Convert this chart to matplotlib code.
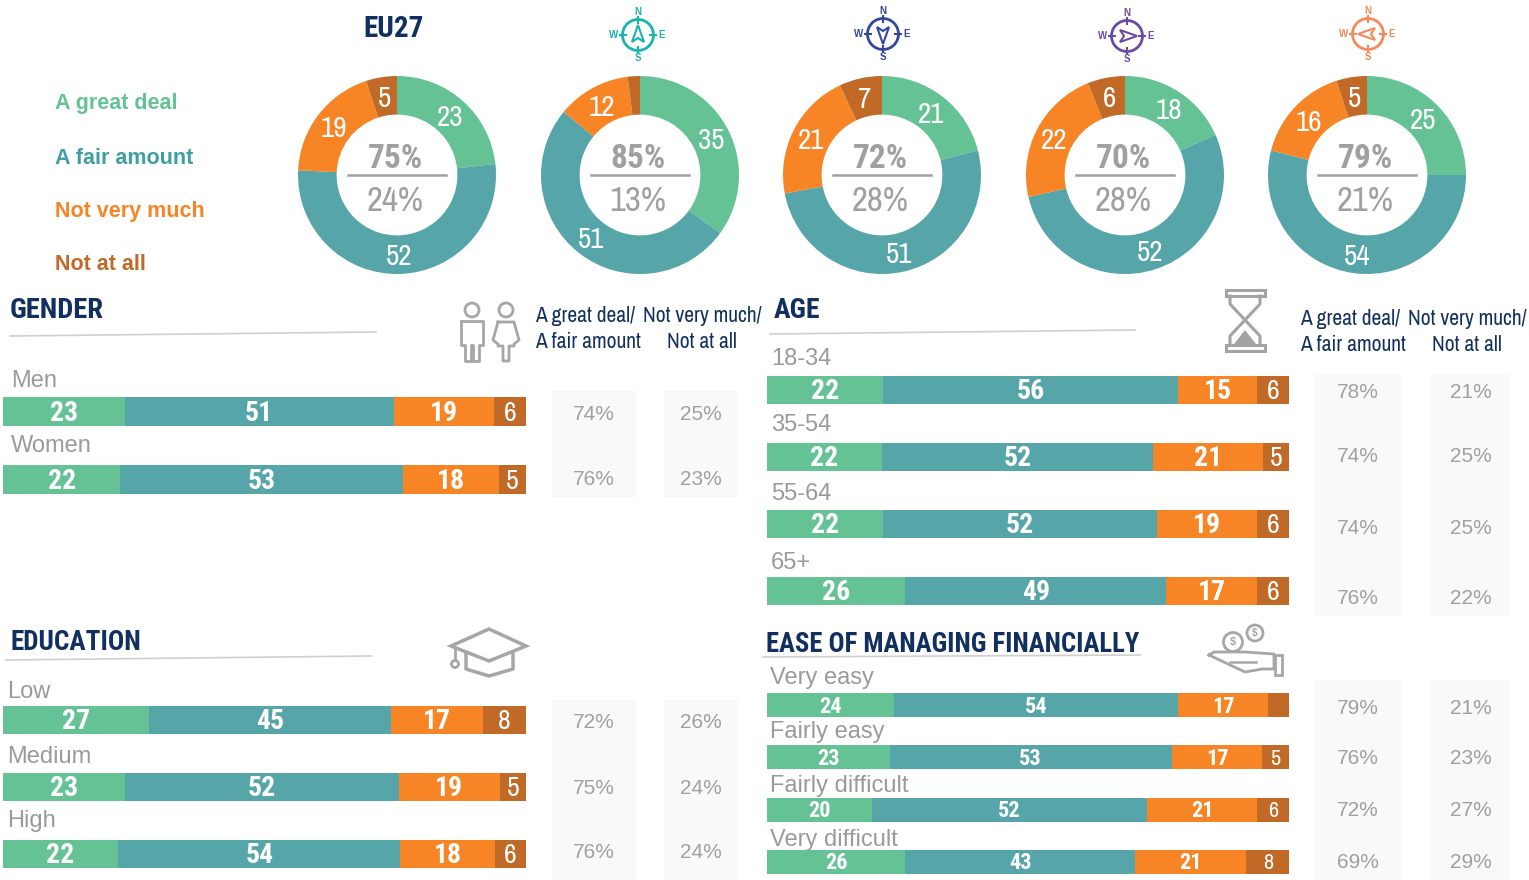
import numpy as np
import matplotlib
matplotlib.use("Agg")
import matplotlib.pyplot as plt
from matplotlib.patches import Circle, Rectangle, Polygon
import logging

logging.getLogger("matplotlib.font_manager").setLevel(logging.ERROR)

W, H = 1529, 880
NARROW = ["Archivo Narrow", "Roboto Condensed", "Liberation Sans"]
NARROW_BOLD = ["Roboto Condensed", "Archivo Narrow", "Liberation Sans"]
ARIAL = ["Liberation Sans", "DejaVu Sans"]
plt.rcParams["font.family"] = ARIAL

GREEN = "#65c295"
TEAL = "#55a5a9"
ORANGE = "#f78425"
BROWN = "#c16a27"
NAVY = "#12305f"
GREY = "#a0a0a0"
ICON = "#a6a6a6"
BOX = "#f9f9f9"
COLORS = [GREEN, TEAL, ORANGE, BROWN]

legend_names = ["A great deal", "A fair amount", "Not very much", "Not at all"]
legend_colors = [GREEN, "#3f9ea3", ORANGE, BROWN]

donut_values = [
    [23, 52, 19, 5],
    [35, 51, 12, 2],
    [21, 51, 21, 7],
    [18, 52, 22, 6],
    [25, 54, 16, 5],
]
donut_top = ["75%", "85%", "72%", "70%", "79%"]
donut_bottom = ["24%", "13%", "28%", "28%", "21%"]
compass_colors = ["#1bb3ad", "#33479c", "#6b4aa5", "#f58a5c"]

gender_labels = ["Men", "Women"]
gender_values = [[23, 51, 19, 6], [22, 53, 18, 5]]
gender_pos = ["74%", "76%"]
gender_neg = ["25%", "23%"]

age_labels = ["18-34", "35-54", "55-64", "65+"]
age_values = [[22, 56, 15, 6], [22, 52, 21, 5], [22, 52, 19, 6], [26, 49, 17, 6]]
age_pos = ["78%", "74%", "74%", "76%"]
age_neg = ["21%", "25%", "25%", "22%"]

edu_labels = ["Low", "Medium", "High"]
edu_values = [[27, 45, 17, 8], [23, 52, 19, 5], [22, 54, 18, 6]]
edu_pos = ["72%", "75%", "76%"]
edu_neg = ["26%", "24%", "24%"]

ease_labels = ["Very easy", "Fairly easy", "Fairly difficult", "Very difficult"]
ease_values = [[24, 54, 17, 4], [23, 53, 17, 5], [20, 52, 21, 6], [26, 43, 21, 8]]
ease_pos = ["79%", "76%", "72%", "69%"]
ease_neg = ["21%", "23%", "27%", "29%"]


def px_axes(fig, x0, y0, x1, y1, **kw):
    return fig.add_axes([x0 / W, 1 - y1 / H, (x1 - x0) / W, (y1 - y0) / H], **kw)


fig = plt.figure(figsize=(W / 100, H / 100), dpi=100)
bg = px_axes(fig, 0, 0, W, H)
bg.set_xlim(0, W)
bg.set_ylim(H, 0)
bg.axis("off")


def donut(cx, cy, vals, top, bottom, r=99):
    ax = px_axes(fig, cx - r, cy - r, cx + r, cy + r)
    wedges, _ = ax.pie(vals, colors=COLORS, startangle=90, counterclock=False, radius=1,
                       wedgeprops=dict(width=0.39, linewidth=0))
    ax.set_xlim(-1, 1)
    ax.set_ylim(-1, 1)
    for w, v in zip(wedges, vals):
        if v < 5:
            continue
        ang = np.deg2rad((w.theta1 + w.theta2) / 2)
        ax.text(0.805 * np.cos(ang), 0.805 * np.sin(ang) - 0.02, str(v), color="white", ha="center",
                va="center", fontsize=21, family=NARROW)
    ax.text(-0.02, 0.165, top, color=GREY, ha="center", va="center", fontsize=24, family=NARROW_BOLD, fontweight="bold")
    ax.plot([-0.49, 0.49], [0.0, 0.0], color=GREY, lw=1.8)
    ax.text(-0.02, -0.26, bottom, color=GREY, ha="center", va="center", fontsize=25, family=NARROW)


def compass(cx, cy, color, direction):
    bg.add_patch(Circle((cx, cy), 15.5, fill=False, ec=color, lw=2))
    for dx, dy in [(0, -1), (0, 1), (-1, 0), (1, 0)]:
        bg.plot([cx + dx * 12, cx + dx * 18], [cy + dy * 12, cy + dy * 18], color=color, lw=1.5)
    for s, x, y in [("N", cx, cy - 23), ("S", cx, cy + 23), ("W", cx - 24, cy), ("E", cx + 24, cy)]:
        bg.text(x, y, s, color=color, fontsize=7, fontweight="bold", ha="center", va="center")
    pts = np.array([[0, -10], [6, 7], [0, 3], [-6, 7]], float)
    rot = np.deg2rad(direction)
    R = np.array([[np.cos(rot), -np.sin(rot)], [np.sin(rot), np.cos(rot)]])
    pts = pts @ R.T + [cx, cy]
    bg.add_patch(Polygon(pts, closed=True, fill=False, ec=color, lw=1.5))


def stacked(x0, x1, centers, bar_h, rows, labels, label_x, label_dy, pos, neg, bx, fs=20, label_fs=17):
    step = centers[1] - centers[0]
    ax = px_axes(fig, x0, centers[0] - step / 2, x1, centers[-1] + step / 2)
    ax.patch.set_alpha(0)
    y = np.arange(len(rows))
    arr = np.array(rows, float)
    arr = arr / arr.sum(axis=1, keepdims=True) * 100
    left = np.zeros(len(rows))
    for j in range(4):
        ax.barh(y, arr[:, j], left=left, height=bar_h / step, color=COLORS[j], linewidth=0)
        for i in range(len(rows)):
            if rows[i][j] >= 5:
                ax.text(left[i] + arr[i, j] / 2, i + 1.5 / step, str(rows[i][j]), color="white", ha="center",
                        va="center", fontsize=fs,
                        family=NARROW_BOLD if j < 3 else NARROW,
                        fontweight="bold" if j < 3 else "normal")
        left += arr[:, j]
    ax.set_xlim(0, 100)
    ax.set_ylim(len(rows) - 0.5, -0.5)
    ax.axis("off")
    for i, c in enumerate(centers):
        bg.text(label_x, c + label_dy[i], labels[i], color="#9a9a9a", fontsize=label_fs, ha="left", va="center")
        bg.text((bx[0] + bx[1]) / 2, c + bx[4][i], pos[i], color=GREY, fontsize=15, ha="center", va="center")
        bg.text((bx[2] + bx[3]) / 2, c + bx[4][i], neg[i], color=GREY, fontsize=15, ha="center", va="center")


def header(x1, x2, y):
    bg.text(x1, y + 1, "A great deal/", color=NAVY, fontsize=15.5, ha="left", va="center", family=NARROW)
    bg.text(x1, y + 27, "A fair amount", color=NAVY, fontsize=15.5, ha="left", va="center", family=NARROW)
    bg.text(x2, y + 1, "Not very much/", color=NAVY, fontsize=15.5, ha="center", va="center", family=NARROW)
    bg.text(x2, y + 27, "Not at all", color=NAVY, fontsize=15.5, ha="center", va="center", family=NARROW)


def boxes(x0, x1, x2, x3, y0, y1):
    bg.add_patch(Rectangle((x0, y0), x1 - x0, y1 - y0, color=BOX, lw=0))
    bg.add_patch(Rectangle((x2, y0), x3 - x2, y1 - y0, color=BOX, lw=0))


def title(x, y, s, fs=20):
    bg.text(x, y, s, color=NAVY, fontsize=fs, fontweight="bold", family=NARROW_BOLD, ha="left", va="center")


def person(cx, female=False):
    bg.add_patch(Circle((cx, 310), 7, fill=False, ec=ICON, lw=2))
    if female:
        xs = [-8, 8, 13, 8, 8, 3, 3, -3, -3, -8, -8, -13, -8]
        ys = [322, 322, 340, 344, 346, 346, 361, 361, 346, 346, 344, 340, 322]
    else:
        xs = [-11, 11, 11, 7, 7, 1, 1, -1, -1, -7, -7, -11, -11]
        ys = [321, 321, 345, 345, 361, 361, 345, 345, 361, 361, 345, 345, 321]
    bg.plot(np.array(xs) + cx, ys, color=ICON, lw=2)


# background boxes first
boxes(552, 636, 664, 738, 391, 497)
boxes(1314, 1402, 1431, 1510, 373, 616)
boxes(552, 636, 664, 738, 700, 880)
boxes(1314, 1402, 1431, 1510, 680, 880)

# top row
bg.text(394, 29, "EU27", color=NAVY, fontsize=21, fontweight="bold", family=NARROW_BOLD, ha="center", va="center")
for name, col, y in zip(legend_names, legend_colors, [104, 158, 211, 265]):
    bg.text(55, y, name, color=col, fontsize=15.5, fontweight="bold", ha="left", va="center")
for cx, vals, t, b in zip([397, 640, 882, 1125, 1367], donut_values, donut_top, donut_bottom):
    donut(cx, 175, vals, t, b)
for cx, cy, col, d in zip([638, 883, 1127, 1368], [35, 34, 36, 34], compass_colors, [0, 180, 90, 270]):
    compass(cx, cy, col, d)

# gender
title(10, 311, "GENDER", fs=20.5)
bg.plot([10, 376], [336, 332], color="#cfcfcf", lw=1.2)
person(472)
person(506, female=True)
header(535, 702, 315)
stacked(3, 526, [412, 479.5], 29, gender_values, gender_labels, 11, [-31, -33], gender_pos, gender_neg,
        (552, 636, 664, 738, [2, 0]))

# age
title(774, 311, "AGE")
bg.plot([770, 1135], [334, 330], color="#cfcfcf", lw=1.2)
header(1300, 1467, 318)
stacked(767, 1289, [390, 457, 524, 591], 28, age_values, age_labels, 771, [-31, -32, -30, -28], age_pos, age_neg,
        (1314, 1402, 1431, 1510, [2, 0, 4, 8]))

# education
title(10, 643, "EDUCATION", fs=19.5)
bg.plot([6, 371], [660, 656], color="#cfcfcf", lw=1.2)
stacked(3, 526, [720, 787, 854], 28, edu_values, edu_labels, 7, [-28, -30, -33], edu_pos, edu_neg,
        (552, 636, 664, 738, [3, 1, -1]))

# ease of managing
title(766, 644, "EASE OF MANAGING FINANCIALLY", fs=19.2)
bg.plot([763, 1140], [657, 655], color="#cfcfcf", lw=1.2)
stacked(767, 1289, [705, 757, 809, 862], 24, ease_values, ease_labels, 770, [-27, -25, -23, -22], ease_pos, ease_neg,
        (1314, 1402, 1431, 1510, [3, 2, 2, 1]), fs=16)

# hourglass icon
hg = "#a3a3a3"
bg.add_patch(Rectangle((1226, 290), 39, 6, fill=False, ec=hg, lw=2.2))
bg.add_patch(Rectangle((1226, 345), 39, 6, fill=False, ec=hg, lw=2.2))
bg.plot([1230, 1230, 1245, 1260, 1260], [296, 304, 320, 304, 296], color=hg, lw=2.2)
bg.plot([1230, 1230, 1245, 1260, 1260], [345, 336, 320, 336, 345], color=hg, lw=2.2)
bg.add_patch(Polygon([[1234, 344], [1245, 330], [1256, 344]], color=hg, lw=0))

# graduation cap icon
bg.add_patch(Polygon([[451, 646], [489, 629], [526, 646], [489, 661]], closed=True, fill=False, ec=ICON, lw=2.5))
bg.plot([466, 466, 489, 513, 513], [654, 669, 676, 669, 654], color=ICON, lw=2.5)
bg.plot([455, 455], [648, 660], color=ICON, lw=2)
bg.add_patch(Circle((455, 664), 3.5, fill=False, ec=ICON, lw=2))

# hand with coins icon
bg.add_patch(Circle((1233, 642), 9.5, fill=False, ec=ICON, lw=2))
bg.add_patch(Circle((1255, 633), 8, fill=False, ec=ICON, lw=2))
bg.text(1233, 642, "$", color=ICON, fontsize=8, fontweight="bold", ha="center", va="center")
bg.text(1255, 633, "$", color=ICON, fontsize=7, fontweight="bold", ha="center", va="center")
bg.plot([1209, 1214, 1245, 1274, 1274, 1262, 1245, 1209],
        [655, 652, 652, 654, 669, 669, 672, 655], color=ICON, lw=2)
bg.plot([1230, 1256], [662, 662], color=ICON, lw=1.8)
bg.add_patch(Rectangle((1275, 655), 7, 20, fill=False, ec=ICON, lw=2))

fig.savefig("out.png", dpi=100)
